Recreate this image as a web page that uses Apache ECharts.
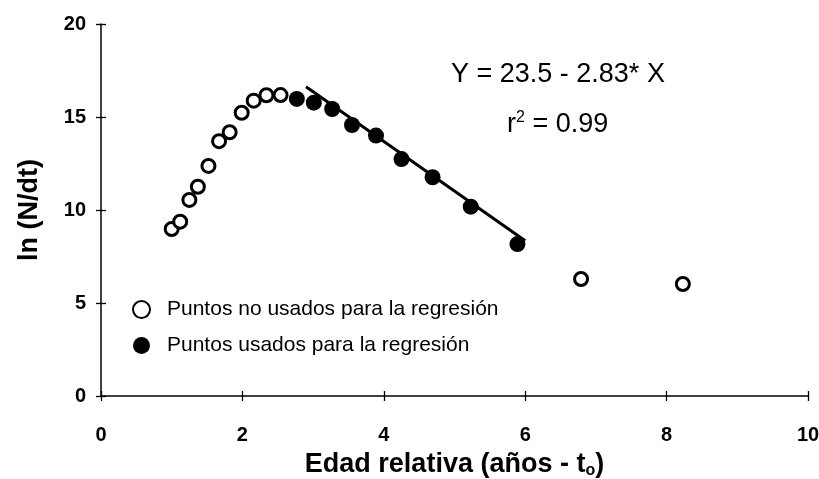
<!DOCTYPE html>
<html>
<head>
<meta charset="utf-8">
<script src="https://cdn.jsdelivr.net/npm/echarts@6/dist/echarts.min.js"></script>
<style>
  html, body { margin: 0; padding: 0; background: #fff; }
  #chart { width: 819px; height: 479px; }
</style>
</head>
<body>
<div id="chart"></div>
<script>
// points not used for the regression (open circles)
var openX = [1.0, 1.12, 1.25, 1.37, 1.52, 1.67, 1.82, 1.99, 2.16, 2.34, 2.54, 6.79, 8.23]
var openY = [8.98, 9.37, 10.54, 11.25, 12.37, 13.7, 14.18, 15.23, 15.88, 16.17, 16.18, 6.29, 6.02]
// points used for the regression (filled)
var usedX = [2.77, 3.01, 3.27, 3.55, 3.89, 4.25, 4.69, 5.23, 5.89]
var usedY = [15.97, 15.77, 15.43, 14.57, 14.0, 12.74, 11.76, 10.18, 8.17]
// fitted line as drawn
var lineX = [2.9, 6.0]
var lineY = [16.63, 8.35]

var xTicks = [0, 2, 4, 6, 8, 10]
var yTicks = [0, 5, 10, 15, 20]

function pairs(xs, ys) {
    var out = []
    for (var i = 0; i < xs.length; i++) {
        out.push([xs[i], ys[i]])
    }
    return out
}

var font = 'Liberation Sans, Arial, sans-serif'
var chart = echarts.init(document.getElementById('chart'))

var axisLine = { show: true, lineStyle: { color: '#000', width: 1.5 } }
var tickStyle = { color: '#000', width: 1.3 }

chart.setOption({
    animation: false,
    backgroundColor: '#fff',
    textStyle: { fontFamily: font, color: '#000' },
    grid: { left: 101, right: 11, top: 24, bottom: 83, outerBoundsMode: 'none', containLabel: false },
    legend: {
        orient: 'vertical',
        left: 127,
        top: 294,
        itemGap: 15,
        itemWidth: 17,
        itemHeight: 17,
        icon: 'circle',
        textStyle: { fontSize: 21, color: '#000', fontFamily: font, padding: [0, 0, 0, 12] },
        data: ['Puntos no usados para la regresión', 'Puntos usados para la regresión']
    },
    xAxis: [{
        type: 'value',
        min: 0, max: 10, interval: 2,
        splitLine: { show: false },
        axisLine: axisLine,
        axisTick: { show: true, length: 5, lineStyle: tickStyle },
        axisLabel: {
            margin: 29, fontSize: 20, fontWeight: 'bold', color: '#000',
            formatter: function (v) { return xTicks.indexOf(v) >= 0 ? String(v) : '' }
        },
        name: '{b|Edad relativa (años - t}{s|o}{b|)}',
        nameLocation: 'middle',
        nameGap: 55,
        nameTextStyle: {
            rich: {
                b: { fontSize: 27, fontWeight: 'bold', color: '#000', fontFamily: font },
                s: { fontSize: 16, fontWeight: 'bold', color: '#000', fontFamily: font, padding: [12, 0, 0, 0] }
            }
        }
    }, {
        type: 'value',
        position: 'bottom',
        min: 0, max: 10, interval: 2,
        splitLine: { show: false },
        axisLine: { show: false },
        axisTick: { show: true, inside: true, length: 5, lineStyle: tickStyle },
        axisLabel: { show: false }
    }],
    yAxis: [{
        type: 'value',
        min: 0, max: 20, interval: 5,
        splitLine: { show: false },
        axisLine: axisLine,
        axisTick: { show: true, length: 5, lineStyle: tickStyle },
        axisLabel: {
            margin: 15, fontSize: 20, fontWeight: 'bold', color: '#000',
            formatter: function (v) { return yTicks.indexOf(v) >= 0 ? String(v) : '' }
        },
        name: 'ln (N/dt)',
        nameLocation: 'middle',
        nameGap: 58,
        nameTextStyle: { fontSize: 27, fontWeight: 'bold', color: '#000', fontFamily: font }
    }, {
        type: 'value',
        position: 'left',
        min: 0, max: 20, interval: 5,
        splitLine: { show: false },
        axisLine: { show: false },
        axisTick: { show: true, inside: true, length: 5, lineStyle: tickStyle },
        axisLabel: { show: false }
    }],
    graphic: [{
        type: 'text',
        left: 451,
        top: 61,
        style: {
            text: 'Y = 23.5 - 2.83* X',
            font: '27px ' + font,
            fill: '#000'
        }
    }, {
        type: 'text',
        left: 507,
        top: 110,
        style: {
            text: '{a|r}{p|2}{a| = 0.99}',
            fill: '#000',
            rich: {
                a: { fontSize: 27, fontFamily: font, fill: '#000' },
                p: { fontSize: 16, fontFamily: font, fill: '#000', padding: [0, 0, 13, 0] }
            }
        }
    }],
    series: [{
        name: 'fit',
        type: 'line',
        data: pairs(lineX, lineY),
        symbol: 'none',
        lineStyle: { color: '#000', width: 3 },
        z: 1
    }, {
        name: 'Puntos no usados para la regresión',
        type: 'scatter',
        data: pairs(openX, openY),
        symbol: 'circle',
        symbolSize: 13,
        itemStyle: { color: '#fff', borderColor: '#000', borderWidth: 3, opacity: 1 },
        z: 3
    }, {
        name: 'Puntos usados para la regresión',
        type: 'scatter',
        data: pairs(usedX, usedY),
        symbol: 'circle',
        symbolSize: 16,
        itemStyle: { color: '#000', borderColor: '#000', borderWidth: 0, opacity: 1 },
        z: 4
    }]
})
</script>
</body>
</html>
